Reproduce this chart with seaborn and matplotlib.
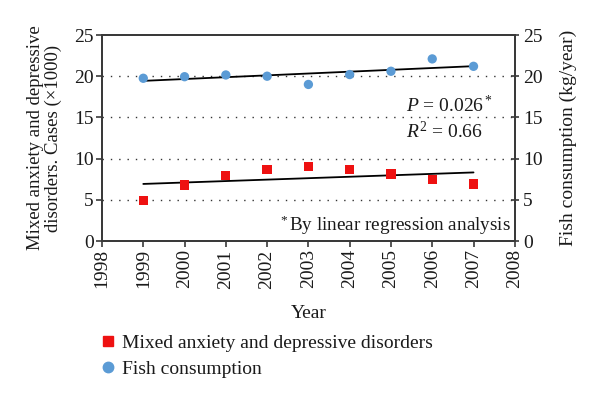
import numpy as np
import pandas as pd
import seaborn as sns
import matplotlib.pyplot as plt
from matplotlib.lines import Line2D

years = [1999, 2000, 2001, 2002, 2003, 2004, 2005, 2006, 2007]
anxiety = [4.9, 6.8, 7.97, 8.65, 9.06, 8.7, 8.13, 7.5, 6.9]
fish = [19.75, 19.94, 20.15, 20.0, 19.0, 20.2, 20.6, 22.1, 21.2]
x_ticks = list(range(1998, 2009))
y_ticks = [0, 5, 10, 15, 20, 25]

sns.set_theme(style="white")
plt.rcParams['font.family'] = ['Liberation Serif', 'DejaVu Serif']
plt.rcParams['mathtext.fontset'] = 'custom'
plt.rcParams['mathtext.rm'] = 'Liberation Serif'
plt.rcParams['mathtext.it'] = 'Liberation Serif:italic'

df = pd.DataFrame({"Year": years, "anx": anxiety, "fish": fish})

fig = plt.figure(figsize=(6, 4.01), dpi=100)
ax = fig.add_axes([0.17, 0.399, 0.688, 0.5137])
ax2 = ax.twinx()

red = "#ee1111"
blue = "#5b9bd5"
edge = "#3a3a3a"
txt = "#1a1a1a"

# trend lines
for col, axx in (("anx", ax), ("fish", ax2)):
    k, b = np.polyfit(df["Year"], df[col], 1)
    xs = np.array([years[0], years[-1]])
    sns.lineplot(x=xs, y=k * xs + b, ax=axx, color="black", linewidth=1.3)

sns.scatterplot(data=df, x="Year", y="anx", ax=ax, marker="s", color=red,
                s=45, edgecolor="none", zorder=3)
sns.scatterplot(data=df, x="Year", y="fish", ax=ax2, marker="o", color=blue,
                s=45, edgecolor="none", zorder=3)

for a in (ax, ax2):
    a.set_xlim(1998, 2008)
    a.set_ylim(0, 25)
    a.set_yticks(y_ticks)
    for s in a.spines.values():
        s.set_color(edge)
        s.set_linewidth(1.4)

fs = 14
ax.set_xticks(x_ticks)
ax.set_xticklabels([str(t) for t in x_ticks], rotation=90, fontsize=fs, color=txt)
ax.set_yticklabels([str(t) for t in y_ticks], fontsize=fs, color=txt)
ax2.set_yticklabels([str(t) for t in y_ticks], fontsize=fs, color=txt)
ax.tick_params(axis="x", direction="out", length=4, width=1.2, color=edge, pad=2, bottom=True)
ax.tick_params(axis="y", direction="out", length=4, width=1.2, color=edge, left=True, pad=2)
ax2.tick_params(axis="y", direction="inout", length=6, width=1.2, color=edge, right=True, pad=3)

for v in [5, 10, 15, 20]:
    ax.axhline(v, color="#333333", linestyle=(0, (1, 5)), linewidth=1.0, zorder=0)

ax.set_xlabel("Year", fontsize=fs, labelpad=12, color=txt)
ax.set_ylabel("Mixed anxiety and depressive\ndisorders. Cases (\u00d71000)", fontsize=13.5,
              labelpad=9, color=txt, linespacing=1.05)
ax2.set_ylabel("Fish consumption (kg/year)", fontsize=fs, labelpad=12, color=txt)

ax.text(2005.36, 16.5, r"$\it{P}$ = 0.026$^*$", ha="left", va="center", fontsize=14, color=txt)
ax.text(2005.36, 13.3, r"$\it{R}^2$ = 0.66", ha="left", va="center", fontsize=14, color=txt)
ax.text(2007.9, 1.9, r"$^*$By linear regression analysis", ha="right", va="center",
        fontsize=13.8, color=txt)

handles = [
    Line2D([], [], marker="s", color=red, linestyle="none", markersize=7),
    Line2D([], [], marker="o", color=blue, linestyle="none", markersize=7.5),
]
fig.legend(handles, ["Mixed anxiety and depressive disorders", "Fish consumption"],
           loc="upper left", bbox_to_anchor=(0.135, 0.21), frameon=False,
           fontsize=fs, handletextpad=0.2, labelspacing=0.45, handlelength=1.0,
           labelcolor=txt)

fig.savefig("out.png", dpi=100)
